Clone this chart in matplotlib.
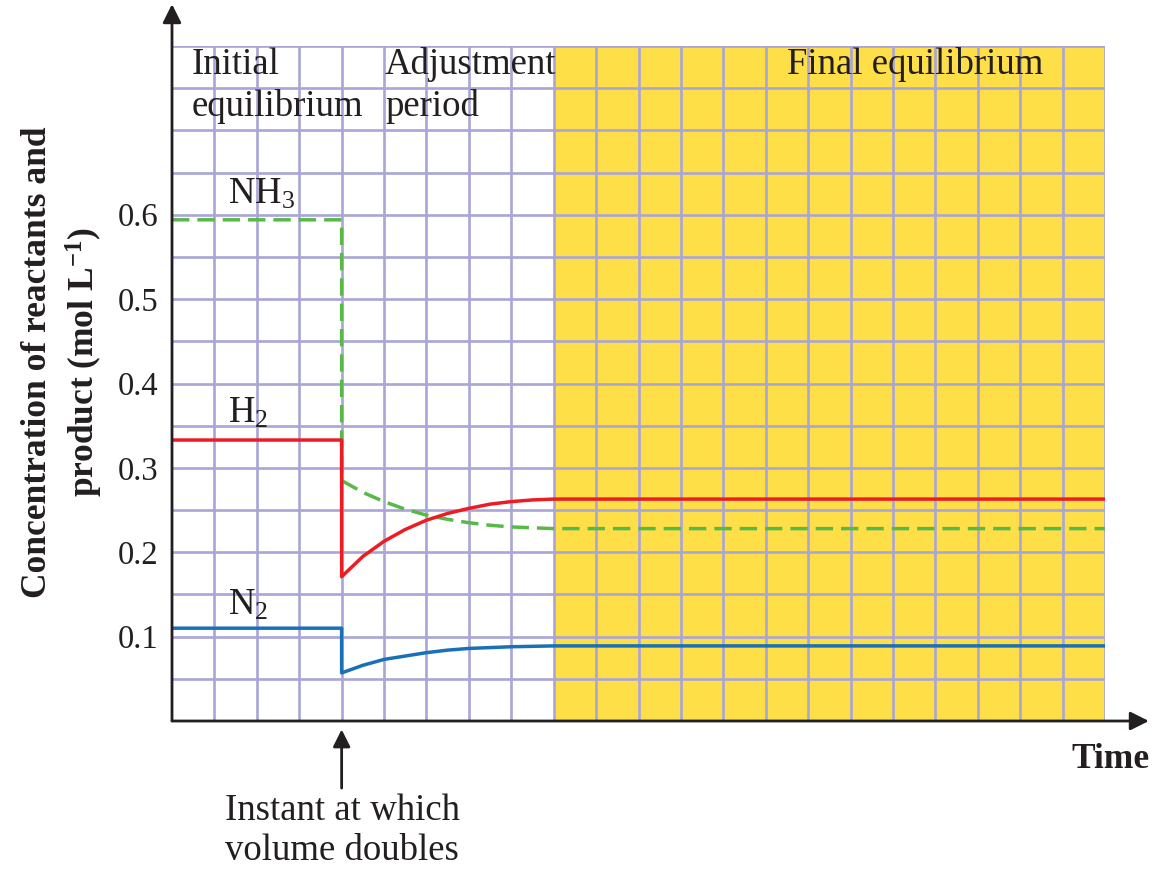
import matplotlib
matplotlib.use("Agg")
import matplotlib.pyplot as plt

# Concentrations (mol/L) before the volume change, then after it
t_initial = [0, 4]
t_adjust = [4, 4.5, 5, 5.5, 6, 6.5, 7, 7.5, 8, 8.5, 9, 22]

nh3_initial = [0.594, 0.594]
nh3_adjust = [0.285, 0.271, 0.260, 0.251, 0.244, 0.239, 0.235, 0.232, 0.230, 0.229, 0.228, 0.228]

h2_initial = [0.333, 0.333]
h2_adjust = [0.171, 0.195, 0.213, 0.227, 0.238, 0.246, 0.252, 0.257, 0.260, 0.262, 0.263, 0.263]

n2_initial = [0.110, 0.110]
n2_adjust = [0.057, 0.066, 0.073, 0.077, 0.081, 0.084, 0.086, 0.087, 0.088, 0.0885, 0.089, 0.089]

y_ticks = [0.1, 0.2, 0.3, 0.4, 0.5, 0.6]
y_tick_labels = ["0.1", "0.2", "0.3", "0.4", "0.5", "0.6"]

t_volume_change = 4
t_final_start = 9
t_end = 22
c_top = 0.8

SERIF = ["Liberation Serif", "DejaVu Serif"]
plt.rcParams["font.family"] = SERIF
plt.rcParams["mathtext.fontset"] = "custom"
plt.rcParams["mathtext.rm"] = "Liberation Serif"
plt.rcParams["mathtext.it"] = "Liberation Serif:italic"
plt.rcParams["mathtext.bf"] = "Liberation Serif:bold"

W, H = 1156, 869
fig = plt.figure(figsize=(W / 100, H / 100), dpi=100)
ax = fig.add_axes([172 / W, 1 - 721 / H, 933 / W, (721 - 46) / H])
ax.set_xlim(0, t_end)
ax.set_ylim(0, c_top)

# Final-equilibrium band
ax.axvspan(t_final_start, t_end, color="#fedf48", lw=0, zorder=0.5)

# Lavender grid: one column per time unit, one row per 0.05 mol/L
grid_color = "#a9a5d6"
for i in range(1, t_end + 1):
    ax.axvline(i, color=grid_color, lw=1.9, zorder=1)
for j in range(1, 17):
    ax.axhline(j * 0.05, color=grid_color, lw=1.9, zorder=1)

# Concentration curves
ax.plot(t_initial + t_adjust, nh3_initial + nh3_adjust, color="#58b947", lw=2.5,
        ls=(0, (5.0, 2.3)), zorder=3)
ax.plot(t_initial + t_adjust, h2_initial + h2_adjust, color="#ec1c24", lw=2.5, zorder=3)
ax.plot(t_initial + t_adjust, n2_initial + n2_adjust, color="#1a70b8", lw=2.5, zorder=3)

# Axes with arrow heads
for s in ax.spines.values():
    s.set_visible(False)
ax.annotate("", xy=(0, 1.062), xytext=(0, 0), xycoords="axes fraction",
            arrowprops=dict(arrowstyle="-|>", lw=2, color="#231f20",
                            mutation_scale=28, shrinkA=0, shrinkB=0),
            annotation_clip=False, zorder=5)
ax.annotate("", xy=(1.047, 0), xytext=(0, 0), xycoords="axes fraction",
            arrowprops=dict(arrowstyle="-|>", lw=2, color="#231f20",
                            mutation_scale=28, shrinkA=0, shrinkB=0),
            annotation_clip=False, zorder=5)

ax.set_xticks([])
ax.set_yticks(y_ticks)
ax.set_yticklabels(y_tick_labels, fontsize=23.5, color="#231f20")
ax.tick_params(axis="y", length=0, pad=10)

txt = dict(color="#231f20", fontsize=26.5)
ax.text(0.47, 0.7665, "Initial", ha="left", va="baseline", **txt)
ax.text(0.47, 0.7168, "equilibrium", ha="left", va="baseline", **txt)
ax.text(5.02, 0.7665, "Adjustment", ha="left", va="baseline", **txt)
ax.text(5.02, 0.7168, "period", ha="left", va="baseline", **txt)
ax.text(14.5, 0.7665, "Final equilibrium", ha="left", va="baseline", **txt)

ax.text(1.33, 0.6137, r"NH$_3$", ha="left", va="baseline", **txt)
ax.text(1.33, 0.354, r"H$_2$", ha="left", va="baseline", **txt)
ax.text(1.33, 0.1257, r"N$_2$", ha="left", va="baseline", **txt)

# Marker for the volume change
ax.annotate("", xy=(t_volume_change, -0.010), xytext=(t_volume_change, -0.0795),
            xycoords="data",
            arrowprops=dict(arrowstyle="-|>", lw=2, color="#231f20",
                            mutation_scale=26, shrinkA=0, shrinkB=0),
            annotation_clip=False)
fig.text(225 / W, 1 - 820 / H, "Instant at which", ha="left", va="baseline", **txt)
fig.text(225 / W, 1 - 860 / H, "volume doubles", ha="left", va="baseline", **txt)

fig.text(1110 / W, 1 - 760 / H, "Time", ha="center", va="center",
         fontweight="bold", color="#231f20", fontsize=25.5)
fig.text(63 / W, 1 - 362 / H, "Concentration of reactants and\nproduct (mol L$^{\\mathbf{-1}}$)",
         rotation=90, ha="center", va="center", multialignment="center",
         fontweight="bold", linespacing=1.3, color="#231f20", fontsize=25.5)

fig.savefig("out.png", dpi=100, facecolor="white")
